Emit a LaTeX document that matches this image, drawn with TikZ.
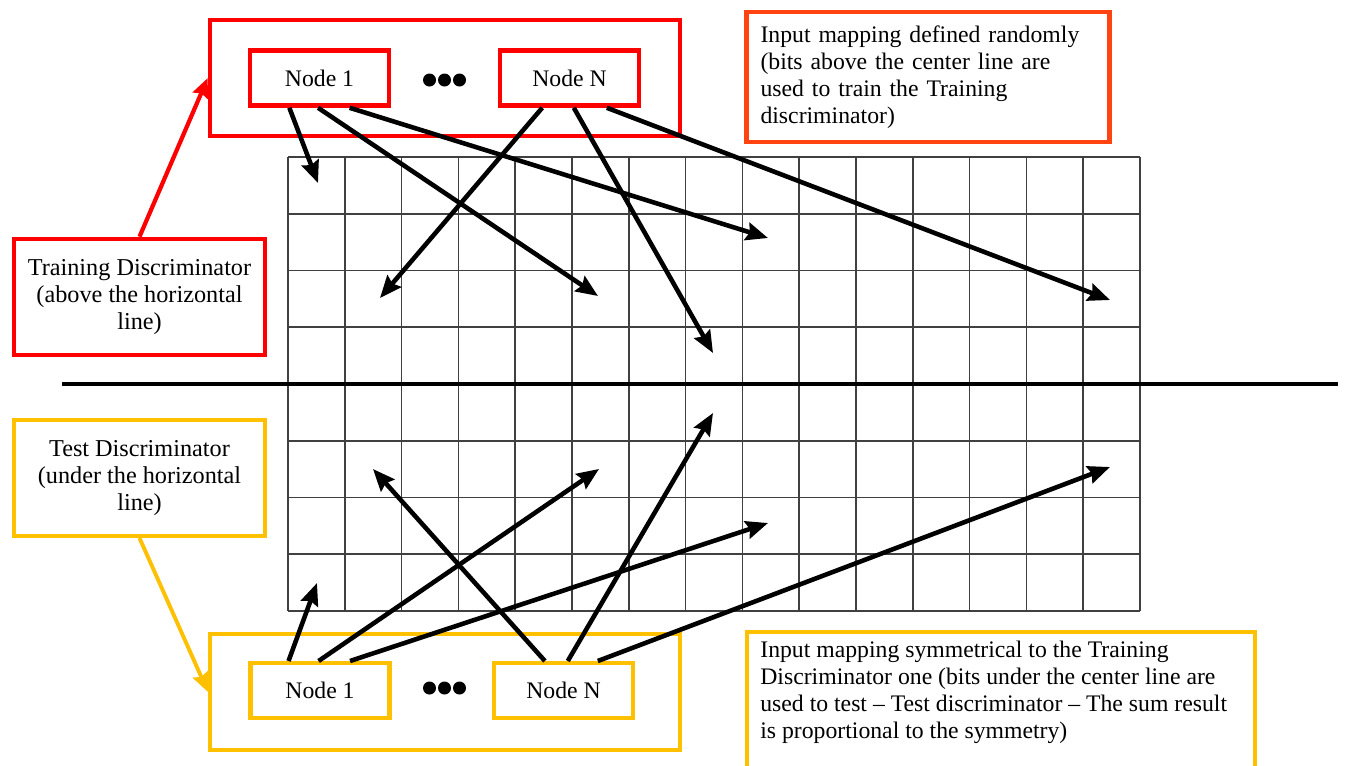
\documentclass[tikz,border=0pt]{standalone}
\usepackage{fontspec}
\setmainfont{Liberation Serif}
\usetikzlibrary{arrows.meta,calc}
\definecolor{tred}{HTML}{FF0000}
\definecolor{torange}{HTML}{FF4411}
\definecolor{tyel}{HTML}{FFC000}
\begin{document}
\begin{tikzpicture}[x=0.02cm,y=-0.02cm,
  txt/.style={font=\fontsize{13.5pt}{15.4pt}\selectfont, text=black},
  redbox/.style={draw=tred, line width=2.6pt},
  yelbox/.style={draw=tyel, line width=2.3pt},
  orbox/.style={draw=torange, line width=2.6pt},
  unitbox/.style={txt, minimum width=2.78cm, minimum height=1.1cm, inner sep=0pt},
  groupbox/.style={minimum width=9.4cm, minimum height=2.32cm, inner sep=0pt},
  discbox/.style={txt, align=center, minimum width=5.02cm, minimum height=2.32cm, inner sep=0pt},
  gridline/.style={draw=black!75, line width=0.95pt},
  mapline/.style={draw=black, line width=2.6pt, -{Stealth[length=0.44cm,width=0.36cm,inset=0.06cm]}},
  linkred/.style={draw=tred, line width=2.4pt, -{Stealth[length=0.38cm,width=0.32cm,inset=0.05cm]}},
  linkyel/.style={draw=tyel, line width=2.2pt, -{Stealth[length=0.38cm,width=0.32cm,inset=0.05cm]}},
  dot/.style={fill=black}]
\clip (0,0) rectangle (1346,765);

% input grid: 15 columns, 8 rows
\foreach \i in {0,...,15} \draw[gridline] ({288+\i*56.8},157) -- ({288+\i*56.8},611);
\foreach \j in {0,...,8} \draw[gridline] (288,{157+\j*56.75}) -- (1140,{157+\j*56.75});
% center line
\draw[black, line width=2.8pt] (62,384) -- (1338,384);

% training discriminator group
\node (tgroup) [groupbox, redbox] at (445,78) {};
\node (t1) [unitbox, redbox] at (319.5,78) {Node 1};
\node (tn) [unitbox, redbox] at (569.5,78) {Node N};
\foreach \x in {429.5,444.5,459.5} \fill[dot] (\x,80) circle (6.5);

% test discriminator group
\node (bgroup) [groupbox, yelbox] at (445,692) {};
\node (b1) [unitbox, yelbox] at (320,690.5) {Node 1};
\node (bn) [unitbox, yelbox] at (563.5,690.5) {Node N};
\foreach \x in {429.5,444.5,459.5} \fill[dot] (\x,688) circle (6.5);

% side labels
\node (train) [discbox, redbox, font=\fontsize{13.8pt}{15.6pt}\selectfont] at (139.5,297) {Training Discriminator\\(above the horizontal\\line)};
\node (test) [discbox, yelbox, font=\fontsize{13.8pt}{15.6pt}\selectfont] at (139.5,478) {Test Discriminator\\(under the horizontal\\line)};
\draw[linkred] (train.north) -- (tgroup.west);
\draw[linkyel] (test.south) -- (bgroup.west);

% notes
\node (notetop) [orbox, txt, align=left, text width=6.7cm, minimum height=2.6cm, inner xsep=0.28cm, inner ysep=0pt] at (928,77)
  {Input mapping defined randomly\\(bits above the center line are\\used to train the Training\\discriminator)};
\node (notebot) [txt, align=left, anchor=north west, inner sep=0pt] at (760,641)
  {Input mapping symmetrical to the Training\\Discriminator one (bits under the center line are\\used to test -- Test discriminator -- The sum result\\is proportional to the symmetry)};
\draw[yelbox] ($(notebot.north west)+(-13,200)$) |- ($(notebot.north west)+(-13,-9)$) -| ($(notebot.north west)+(495,200)$);

% random bit targets above the line
\coordinate (a1) at (318,183);
\coordinate (a2) at (598,296);
\coordinate (a3) at (768,238);
\coordinate (a4) at (380,298);
\coordinate (a5) at (713,353);
\coordinate (a6) at (1110,300);
% mirrored targets below the line
\coordinate (c1) at (317,583);
\coordinate (c2) at (599,469);
\coordinate (c3) at (768,523);
\coordinate (c4) at (373,469);
\coordinate (c5) at (713,413);
\coordinate (c6) at (1110,467);

\draw[mapline] ($(t1.south west)!0.29!(t1.south east)$) -- (a1);
\draw[mapline] ($(t1.south west)!0.49!(t1.south east)$) -- (a2);
\draw[mapline] ($(t1.south west)!0.71!(t1.south east)$) -- (a3);
\draw[mapline] ($(tn.south west)!0.31!(tn.south east)$) -- (a4);
\draw[mapline] ($(tn.south west)!0.53!(tn.south east)$) -- (a5);
\draw[mapline] ($(tn.south west)!0.76!(tn.south east)$) -- (a6);

\draw[mapline] ($(b1.north west)!0.28!(b1.north east)$) -- (c1);
\draw[mapline] ($(b1.north west)!0.49!(b1.north east)$) -- (c2);
\draw[mapline] ($(b1.north west)!0.71!(b1.north east)$) -- (c3);
\draw[mapline] ($(bn.north west)!0.37!(bn.north east)$) -- (c4);
\draw[mapline] ($(bn.north west)!0.53!(bn.north east)$) -- (c5);
\draw[mapline] ($(bn.north west)!0.74!(bn.north east)$) -- (c6);
\end{tikzpicture}
\end{document}
